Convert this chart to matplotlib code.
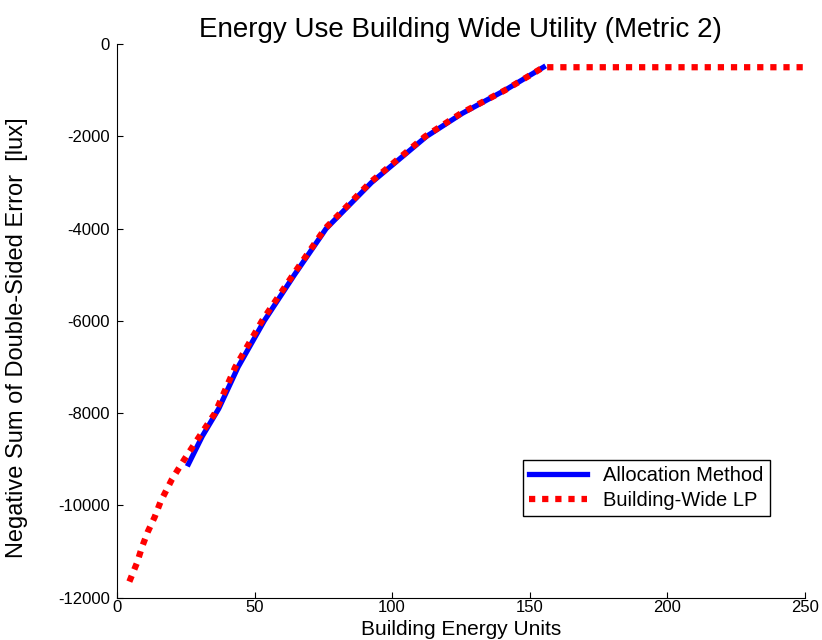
import matplotlib
matplotlib.use("Agg")
import matplotlib.pyplot as plt

plt.rcParams['font.family'] = ['Liberation Sans', 'DejaVu Sans']
plt.rcParams['axes.unicode_minus'] = False

# Building-wide LP (red dotted)
lp_x = [4.5, 7.3, 9.1, 11.2, 13.7, 15.9, 20, 24.5, 30, 35.6, 43, 52.7, 64, 75.6, 92, 102, 112, 125, 141, 155, 250]
lp_y = [-11650, -11240, -10900, -10570, -10250, -9910, -9430, -9000, -8500, -8000, -7000, -6000, -5000, -4000, -3000, -2500, -2000, -1500, -1000, -500, -500]

# Allocation method (blue solid)
alloc_x = [26, 31, 37, 44, 53.5, 64.5, 76, 92.5, 102.5, 112.5, 125.5, 141, 155]
alloc_y = [-9100, -8500, -7900, -7000, -6000, -5000, -4000, -3000, -2500, -2000, -1500, -1000, -500]

fig = plt.figure(figsize=(8.22, 6.4), dpi=100)
ax = fig.add_axes([0.1423, 0.066, 0.8367, 0.865])

ax.plot(alloc_x, alloc_y, color="#0000ff", lw=3.8, label="Allocation Method")
ax.plot(lp_x, lp_y, color="#ff0000", lw=4.5, linestyle=(0, (1, 1.1)),
        dash_capstyle="butt", label="Building-Wide LP")

ax.set_xlim(0, 250)
ax.set_ylim(-12000, 0)
ax.set_xticks([0, 50, 100, 150, 200, 250])
ax.set_yticks(range(-12000, 1, 2000))
ax.tick_params(direction="in", labelsize=12, length=4)
ax.tick_params(axis="x", pad=1.5)
ax.tick_params(axis="y", pad=5)
for s in ["top", "right"]:
    ax.spines[s].set_visible(False)

ax.set_title("Energy Use Building Wide Utility (Metric 2)", fontsize=20, pad=5)
ax.set_xlabel("Building Energy Units", fontsize=15)
ax.xaxis.set_label_coords(0.5, -0.04)
ax.set_ylabel("Negative Sum of Double-Sided Error  [lux]", fontsize=17)
ax.yaxis.set_label_coords(-0.13, 0.47)

leg = ax.legend(loc="lower right", bbox_to_anchor=(0.964, 0.13), fontsize=14.5,
                fancybox=False, framealpha=1, edgecolor="black",
                handlelength=2.9, borderpad=0.3, labelspacing=0.3)
leg.get_frame().set_linewidth(1.0)

fig.savefig("out.png", dpi=100)
